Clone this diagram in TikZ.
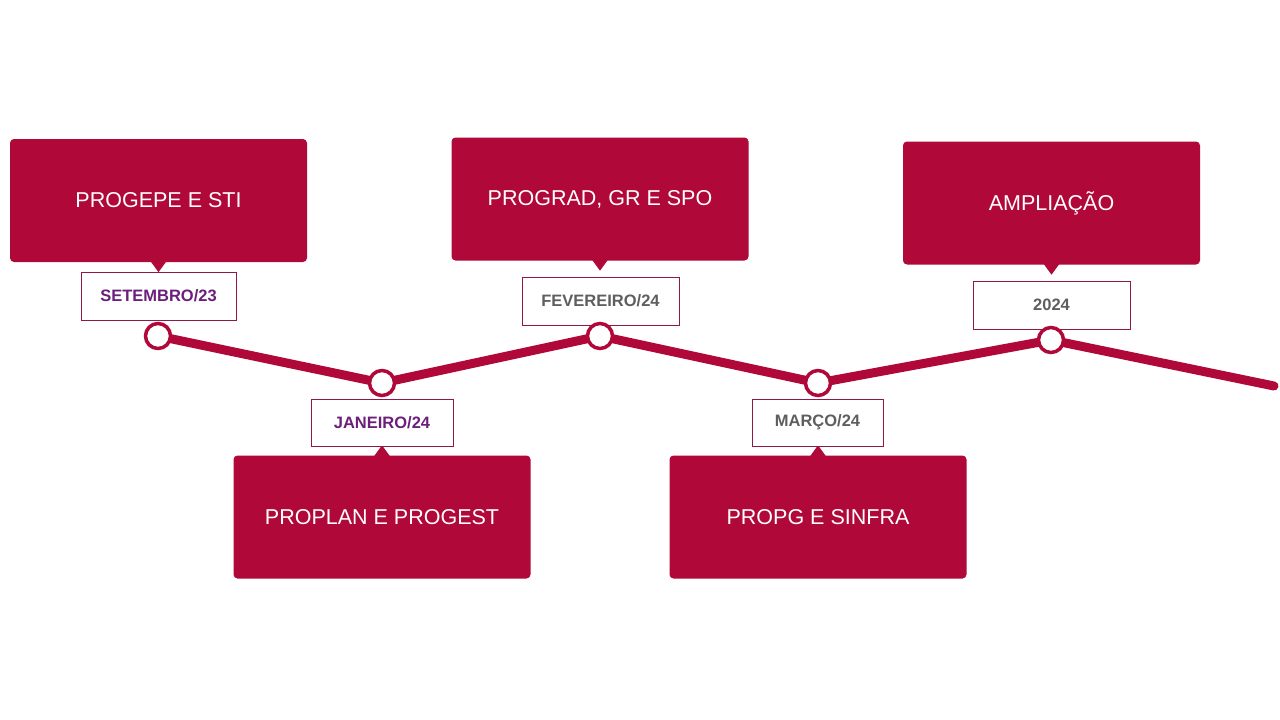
\documentclass[tikz,border=0pt]{standalone}
\usepackage{fontspec}
\setmainfont{Liberation Sans}
\definecolor{crim}{HTML}{B00838}
\definecolor{dpurp}{HTML}{6C1F7A}
\definecolor{dgray}{HTML}{5E5E5E}
\definecolor{bord}{HTML}{8E1848}
\begin{document}
\begin{tikzpicture}[x=1pt,y=-1pt,
  bigbox/.style={fill=crim,rounded corners=4pt,minimum width=297pt,minimum height=123pt,inner sep=0pt,text=white,font=\fontsize{21.5}{26}\selectfont},
  datebox/.style={draw=bord,line width=0.8pt,fill=white,minimum height=48pt,inner sep=0pt,font=\bfseries\fontsize{16.5}{19}\selectfont},
  dot/.style={circle,draw=crim,line width=3.5pt,fill=white,minimum size=25pt,inner sep=0pt},
  tl/.style={draw=crim,line width=9pt,line cap=round,line join=round}]
\useasboundingbox (0,0) rectangle (1280,720);
% timeline points
\coordinate (p1) at (158,336);
\coordinate (p2) at (382,383);
\coordinate (p3) at (600,336);
\coordinate (p4) at (818,383);
\coordinate (p5) at (1051,340);
\coordinate (p6) at (1274,386);
\draw[tl] (p1) -- (p2) -- (p3) -- (p4) -- (p5) -- (p6);
% big boxes
\node[bigbox] (b1) at (158.5,200.5) {PROGEPE E STI};
\node[bigbox] (b2) at (600,199) {PROGRAD, GR E SPO};
\node[bigbox] (b3) at (1051.5,203) {AMPLIAÇÃO};
\node[bigbox] (b4) at (382,517) {PROPLAN E PROGEST};
\node[bigbox] (b5) at (818,517) {PROPG E SINFRA};
% pointers
\foreach \b in {b1,b2,b3}{
  \fill[crim] ([xshift=-8pt,yshift=1pt]\b.south) -- ([xshift=8pt,yshift=1pt]\b.south) -- ([yshift=-10pt]\b.south) -- cycle;
}
\foreach \b in {b4,b5}{
  \fill[crim] ([xshift=-8pt,yshift=-1pt]\b.north) -- ([xshift=8pt,yshift=-1pt]\b.north) -- ([yshift=10pt]\b.north) -- cycle;
}
% date boxes
\node[datebox,minimum width=155pt,text=dpurp] (d1) at (158.5,296) {SETEMBRO/23};
\node[datebox,minimum width=157pt,text=dgray] (d2) at (600.5,301) {FEVEREIRO/24};
\node[datebox,minimum width=157pt,text=dgray] (d3) at (1051.5,305) {2024};
\node[datebox,minimum width=142pt,text=dpurp,minimum height=47pt] (d4) at (382,422.5) {JANEIRO/24};
\node[datebox,minimum width=131pt,text=dgray,minimum height=47pt] (d5) at (817.5,422.5) {MARÇO/24};
% dots
\foreach \p in {p1,p2,p3,p4,p5}{
  \node[dot] at (\p) {};
}
\end{tikzpicture}
\end{document}
